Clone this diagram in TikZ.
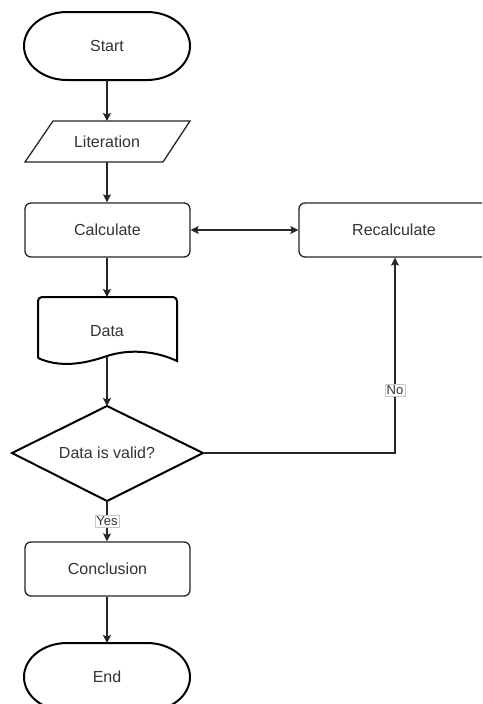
\documentclass[tikz,border=0pt]{standalone}
\usepackage{fontspec}
\setmainfont{Liberation Sans}
\usetikzlibrary{arrows.meta,calc}
\definecolor{txt}{HTML}{333333}
\definecolor{lbl}{HTML}{C8C8C8}
\tikzset{
  lab/.style={text=txt,font=\fontsize{16}{19}\selectfont,inner sep=0pt},
  thin/.style={draw=black!85,line width=1.3pt},
  thick/.style={draw=black,line width=2pt},
  conn/.style={draw=black!85,line width=1.3pt,-{Stealth[length=8pt,width=8pt,inset=1.5pt]}},
  edgelab/.style={fill=white,draw=lbl,line width=0.6pt,text=txt,font=\fontsize{13}{15}\selectfont,inner sep=1.5pt}
}
\begin{document}
\begin{tikzpicture}[x=1pt,y=1pt]
\useasboundingbox (0,0) rectangle (482,-704);
\clip (0,0) rectangle (482,-704);
\fill[white] (0,0) rectangle (482,-704);

% Start terminator
\node[lab] (start) at (107,-46) {Start};
\draw[thick] (67,-12) -- (147,-12) arc[start angle=90,end angle=-90,x radius=43pt,y radius=34pt]
  -- (67,-80) arc[start angle=270,end angle=90,x radius=43pt,y radius=34pt] -- cycle;
\coordinate (startS) at (107,-80);

% Literation parallelogram
\node[lab] (lit) at (107,-141.5) {Literation};
\draw[thin] (53,-121) -- (190,-121) -- (163,-162) -- (25,-162) -- cycle;
\coordinate (litN) at (107,-121);
\coordinate (litS) at (107,-162);

% Calculate
\node[lab,thin,rounded corners=6pt,minimum width=165pt,minimum height=54pt] (calc) at (107.5,-230) {Calculate};

% Recalculate
\node[lab,thin,rounded corners=6pt,minimum width=190pt,minimum height=54pt] (recalc) at (394,-230) {Recalculate};

% Data document
\node[lab] (data) at (107,-331) {Data};
\draw[thick,rounded corners=4pt] (38,-358) -- (38,-297) -- (177,-297) [sharp corners]-- (177,-361)
  .. controls (158,-352) and (132,-348) .. (107,-356)
  .. controls (84,-364) and (60,-368) .. (38,-358);
\coordinate (dataN) at (107,-297);
\coordinate (dataS) at (107,-357);

% Decision diamond
\node[lab] (dec) at (107,-453) {Data is valid?};
\draw[thick] (107,-406) -- (203,-453) -- (107,-501) -- (12,-453) -- cycle;
\coordinate (decN) at (107,-406);
\coordinate (decS) at (107,-501);
\coordinate (decE) at (203,-453);
\coordinate (turn) at (395,-453);

% Conclusion
\node[lab,thin,rounded corners=6pt,minimum width=165pt,minimum height=54pt] (concl) at (107.5,-569) {Conclusion};

% End terminator
\node[lab] (endn) at (107,-677) {End};
\draw[thick] (67,-643) -- (147,-643) arc[start angle=90,end angle=-90,x radius=43pt,y radius=34pt]
  -- (67,-711) arc[start angle=270,end angle=90,x radius=43pt,y radius=34pt] -- cycle;
\coordinate (endN) at (107,-643);

% Connectors
\draw[conn] (startS) -- (litN);
\draw[conn] (litS) -- (calc.north -| litS);
\draw[conn,{Stealth[length=8pt,width=8pt,inset=1.5pt]}-{Stealth[length=8pt,width=8pt,inset=1.5pt]}] (calc.east) -- (recalc.west);
\draw[conn] (calc.south -| dataN) -- (dataN);
\draw[conn] (dataS) -- (decN);
\draw[conn] (decS) -- (concl.north -| decS) node[edgelab,pos=0.5] {Yes};
\draw[conn] (decE) -- (turn) -- (recalc.south -| turn) node[edgelab,pos=0.32] {No};
\draw[conn] (concl.south -| endN) -- (endN);
\end{tikzpicture}
\end{document}
